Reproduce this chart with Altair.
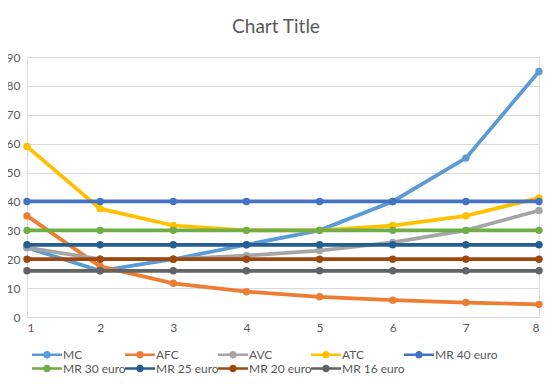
import altair as alt
import pandas as pd

x_vals = [1, 2, 3, 4, 5, 6, 7, 8]
series_names = ["MC", "AFC", "AVC", "ATC", "MR 40 euro", "MR 30 euro", "MR 25 euro", "MR 20 euro", "MR 16 euro"]
mc = [24, 16, 20, 25, 30, 40, 55, 85]
afc = [35, 17.5, 11.67, 8.75, 7, 5.83, 5, 4.38]
avc = [24, 20, 20, 21.25, 23, 25.83, 30, 36.88]
atc = [59, 37.5, 31.67, 30, 30, 31.67, 35, 41.25]
mr40 = [40, 40, 40, 40, 40, 40, 40, 40]
mr30 = [30, 30, 30, 30, 30, 30, 30, 30]
mr25 = [25, 25, 25, 25, 25, 25, 25, 25]
mr20 = [20, 20, 20, 20, 20, 20, 20, 20]
mr16 = [16, 16, 16, 16, 16, 16, 16, 16]
colors = ["#5B9BD5", "#ED7D31", "#A5A5A5", "#FFC000", "#4472C4", "#70AD47", "#255E91", "#9E480E", "#636363"]

values = [mc, afc, avc, atc, mr40, mr30, mr25, mr20, mr16]
rows = []
for name, vals in zip(series_names, values):
    for xv, yv in zip(x_vals, vals):
        rows.append({"x": xv, "y": yv, "series": name})
df = pd.DataFrame(rows)

FONT = "Lato"
GRAY = "#595959"

sym_path = ("M-2,-0.18L2,-0.18L2,0.18L-2,0.18Z "
            "M-0.5,0A0.5,0.5 0 1,1 0.5,0A0.5,0.5 0 1,1 -0.5,0Z")

legend = alt.Legend(
    title=None,
    orient="none",
    legendX=12.5,
    legendY=290,
    direction="horizontal",
    columns=5,
    gridAlign="all",
    symbolType=sym_path,
    symbolSize=225,
    symbolStrokeWidth=0,
    symbolOpacity=1,
    labelOffset=8.5,
    labelFont=FONT,
    labelFontSize=12,
    labelColor=GRAY,
    columnPadding=-2,
    rowPadding=0,
    padding=0,
)

x_enc = alt.X("x:Q", scale=alt.Scale(domain=[1, 8], nice=False),
              axis=alt.Axis(values=x_vals, title=None, grid=False, ticks=False,
                            domainColor="#D9D9D9", labelColor=GRAY, labelFont=FONT,
                            labelFontSize=12, labelPadding=5, format="d"))
y_enc = alt.Y("y:Q", scale=alt.Scale(domain=[0, 90], nice=False),
              axis=alt.Axis(values=list(range(0, 91, 10)), title=None, domain=False,
                            ticks=False, gridColor="#D9D9D9", labelColor=GRAY,
                            labelFont=FONT, labelFontSize=12, labelPadding=7))
color_enc = alt.Color("series:N", scale=alt.Scale(domain=series_names, range=colors), legend=legend)

layers = []
for name in series_names:
    base = alt.Chart(df).transform_filter(alt.datum.series == name)
    pts = base.mark_point(filled=True, size=55, opacity=1).encode(x=x_enc, y=y_enc, color=color_enc)
    line = base.mark_line(strokeWidth=3.75).encode(x=x_enc, y=y_enc, color=color_enc)
    layers += [pts, line]

chart = alt.layer(*layers).properties(
    width=512,
    height=260,
    title=alt.Title("Chart Title", font=FONT, fontSize=19, fontWeight="normal",
                    color=GRAY, offset=14, anchor="middle", dx=-7),
    autosize=alt.AutoSizeParams(type="none"),
    padding={"left": 19, "top": 49, "right": 6, "bottom": 59},
).configure_view(stroke=None).configure(background="white")

chart.save("out.html", embed_options={"renderer": "svg", "actions": False})
